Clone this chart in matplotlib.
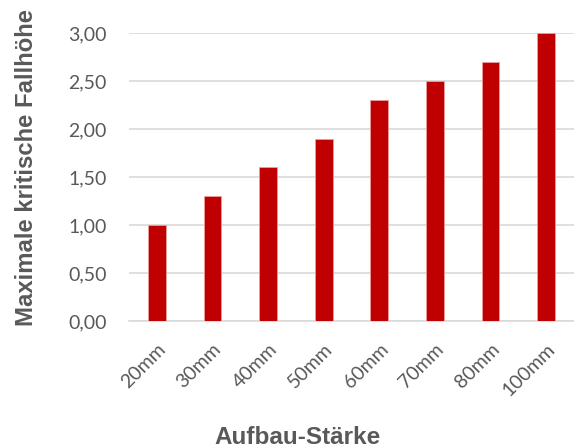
import matplotlib.pyplot as plt
import numpy as np

# Daten
staerken = ['20mm', '30mm', '40mm', '50mm', '60mm', '70mm', '80mm', '100mm']
fallhoehe = [1.0, 1.3, 1.6, 1.9, 2.3, 2.5, 2.7, 3.0]
y_ticks = [0.0, 0.5, 1.0, 1.5, 2.0, 2.5, 3.0]

grau = '#595959'

fig = plt.figure(figsize=(5.74, 4.47), dpi=100)
ax = fig.add_axes([129 / 574, 1 - 321 / 447, 445 / 574, (321 - 33) / 447])

x = np.arange(len(staerken))
ax.bar(x, fallhoehe, width=0.32, color='#C00000', edgecolor='#E8A0A0', linewidth=0.6, zorder=3)

ax.set_xlim(-0.5, len(staerken) - 0.5)
ax.set_ylim(0, 3.0)
ax.set_yticks(y_ticks)
ax.set_yticklabels([f'{v:.2f}'.replace('.', ',') for v in y_ticks],
                   fontsize=14, color=grau, family='Lato')
ax.set_xticks(x)
ax.set_xticklabels(staerken, rotation=45, ha='right', va='top',
                   rotation_mode='anchor', fontsize=14, color=grau, family='Lato')

ax.grid(axis='y', color='#D9D9D9', linewidth=1.2, zorder=0)
for s in ['top', 'right', 'left']:
    ax.spines[s].set_visible(False)
ax.spines['bottom'].set_color('#D9D9D9')
ax.spines['bottom'].set_linewidth(1.2)
ax.tick_params(length=0)
ax.tick_params(axis='y', pad=16)
ax.tick_params(axis='x', pad=14)

# Achsentitel
fig.text(27 / 574, 1 - 167 / 447, 'Maximale kritische Fallhöhe', rotation=90,
         ha='center', va='center', fontsize=17.2, fontweight='bold',
         color=grau, family='Liberation Sans')
fig.text(298 / 574, 1 - 437 / 447, 'Aufbau-Stärke', ha='center', va='center',
         fontsize=17.5, fontweight='bold', color=grau, family='Liberation Sans')

fig.savefig('out.png', dpi=100)
